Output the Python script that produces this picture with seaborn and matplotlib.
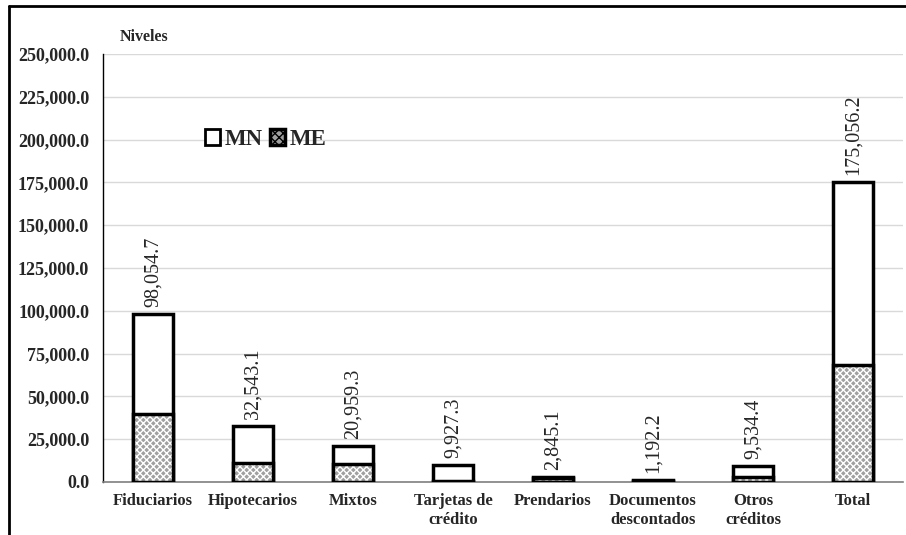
import matplotlib
matplotlib.use('Agg')
import matplotlib.pyplot as plt
from matplotlib.lines import Line2D
from matplotlib.ticker import FuncFormatter
import seaborn as sns
import pandas as pd

categorias = ['Fiduciarios', 'Hipotecarios', 'Mixtos', 'Tarjetas de\ncrédito', 'Prendarios',
              'Documentos\ndescontados', 'Otros\ncréditos', 'Total']
totales = [98054.7, 32543.1, 20959.3, 9927.3, 2845.1, 1192.2, 9534.4, 175056.2]
me_vals = [39600.0, 11300.0, 10600.0, 700.0, 2300.0, 700.0, 3100.0, 68300.0]

df = pd.DataFrame({'cat': categorias, 'total': totales, 'me': me_vals})

sns.set_style('white')
plt.rcParams['font.family'] = ['Liberation Serif', 'DejaVu Serif']

fig = plt.figure(figsize=(9.06, 5.35), dpi=100)
ax = fig.add_axes([103 / 906, 1 - 482 / 535, 800 / 906, 428 / 535])

# MN + ME (white top part)
sns.barplot(data=df, x='cat', y='total', color='white', edgecolor='black', linewidth=2.5,
            width=0.4, saturation=1, ax=ax, zorder=3)
n = len(categorias)
cont_total = ax.containers[0]
# ME grey fill
sns.barplot(data=df, x='cat', y='me', color='#a0a0a0', linewidth=0, width=0.4,
            saturation=1, ax=ax, zorder=4)
# white dotted hatch on ME
sns.barplot(data=df, x='cat', y='me', facecolor='none', edgecolor='white', linewidth=0,
            hatch='xxxxx', width=0.4, ax=ax, zorder=5)
# ME outline
sns.barplot(data=df, x='cat', y='me', facecolor='none', edgecolor='black', linewidth=2.5,
            width=0.4, ax=ax, zorder=6)

ax.bar_label(cont_total, labels=[f'{v:,.1f}' for v in totales], rotation=90, padding=5,
             fontsize=14.5, family=['Liberation Serif'])

ax.set_ylim(0, 250000)
ax.set_xlim(-0.5, n - 0.5)
ax.set_yticks(range(0, 250001, 25000))
ax.yaxis.set_major_formatter(FuncFormatter(lambda v, p: f'{v:,.1f}'))
ax.grid(axis='y', color='#d9d9d9', linewidth=1, zorder=0)
ax.set_axisbelow(True)
ax.tick_params(axis='y', length=0, labelsize=13, pad=10)
ax.tick_params(axis='x', length=0, labelsize=12, pad=8)
for lab in ax.get_xticklabels() + ax.get_yticklabels():
    lab.set_fontweight('bold')
ax.set_xlabel('')
ax.set_ylabel('')
ax.spines['top'].set_visible(False)
ax.spines['right'].set_visible(False)
ax.spines['left'].set_color('black')
ax.spines['left'].set_linewidth(1)
ax.spines['bottom'].set_color('#7f7f7f')
ax.spines['bottom'].set_linewidth(1.2)

ax.text(0.021, 1.02, 'Niveles', transform=ax.transAxes, fontsize=11.5, fontweight='bold',
        ha='left', va='bottom')

handles = [plt.Rectangle((0, 0), 1, 1, facecolor='white', edgecolor='black', linewidth=2),
           plt.Rectangle((0, 0), 1, 1, facecolor='#a0a0a0', edgecolor='black', linewidth=2.5,
                         hatch='xxxx')]
leg = ax.legend(handles, ['MN', 'ME'], loc='center left', bbox_to_anchor=(0.128, 0.80),
                ncol=2, frameon=False, handlelength=0.65, handleheight=0.65,
                handletextpad=0.2, columnspacing=0.3, borderpad=0, borderaxespad=0,
                prop={'family': 'Liberation Serif', 'weight': 'bold', 'size': 16.5})

# outer frame (left and top)
fig.add_artist(Line2D([9 / 906, 9 / 906], [0, 1 - 6 / 535], color='black', linewidth=2,
                      transform=fig.transFigure))
fig.add_artist(Line2D([9 / 906, 1], [1 - 6 / 535, 1 - 6 / 535], color='black', linewidth=2,
                      transform=fig.transFigure))

fig.savefig('out.png', dpi=100)
